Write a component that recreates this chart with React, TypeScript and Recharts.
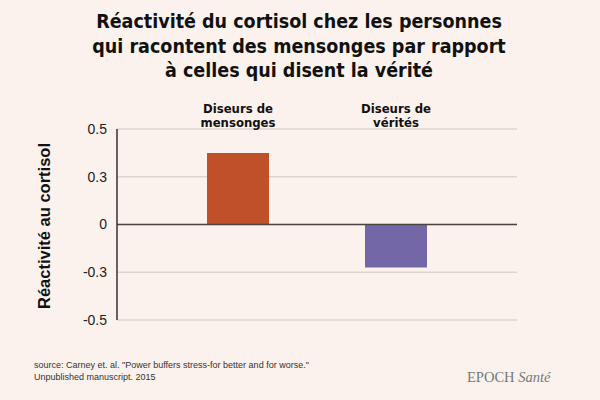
import React from "react";
import { Bar, BarChart, CartesianGrid, Cell, ReferenceLine, XAxis, YAxis } from "recharts";

// catégories et valeurs
const categories = ["Diseurs de mensonges", "Diseurs de vérités"];
const categoryLines = [
  ["Diseurs de", "mensonges"],
  ["Diseurs de", "vérités"],
];
const values = [0.45, -0.27];
const barColors = ["#c0502a", "#7467a7"];

// graduations régulièrement espacées comme sur l'original
const tickPositions = [0.6, 0.3, 0, -0.3, -0.6];
const tickLabels = ["0.5", "0.3", "0", "-0.3", "-0.5"];

const titleLines = [
  "Réactivité du cortisol chez les personnes",
  "qui racontent des mensonges par rapport",
  "à celles qui disent la vérité",
];
const sourceLines = [
  "source: Carney et. al. \"Power buffers stress-for better and for worse.\"",
  "Unpublished manuscript. 2015",
];

const BG = "#fcf2ed";
const TITLE_FONT = "'DejaVu Sans Condensed', 'Liberation Sans', sans-serif";

const data = categories.map((name, i) => ({ name, value: values[i] }));

const CategoryTick = (props: any) => {
  const { x, y, index } = props;
  const lines = categoryLines[index] || [];
  return (
    <g>
      {lines.map((line, i) => (
        <text
          key={line}
          x={x}
          y={y - 8 + i * 14}
          textAnchor="middle"
          fontFamily={TITLE_FONT}
          fontWeight="bold"
          fontSize={13}
          fill="#111"
        >
          {line}
        </text>
      ))}
    </g>
  );
};

export default function App() {
  return (
    <div
      style={{
        position: "absolute",
        left: 0,
        top: 0,
        width: 600,
        height: 400,
        background: BG,
        overflow: "hidden",
      }}
    >
      <div
        style={{
          position: "absolute",
          left: 0,
          top: 10,
          width: 598,
          textAlign: "center",
          fontFamily: TITLE_FONT,
          fontWeight: "bold",
          fontSize: 19.5,
          lineHeight: "24.5px",
          color: "#111",
        }}
      >
        {titleLines.map((l) => (
          <div key={l}>{l}</div>
        ))}
      </div>

      <BarChart
        width={600}
        height={400}
        data={data}
        margin={{ top: 99, right: 83, bottom: 80, left: 57 }}
        style={{ position: "absolute", left: 0, top: 0 }}
      >
        <CartesianGrid vertical={false} stroke="#dcd5cf" strokeWidth={1.5} />
        <XAxis
          dataKey="name"
          orientation="top"
          height={30}
          axisLine={false}
          tickLine={false}
          padding={{ left: 42, right: 42 }}
          tick={<CategoryTick />}
          interval={0}
        />
        <YAxis
          type="number"
          domain={[-0.6, 0.6]}
          ticks={tickPositions}
          tickFormatter={(v: number) => tickLabels[tickPositions.indexOf(v)] ?? String(v)}
          width={60}
          tickLine={false}
          axisLine={{ stroke: "#333", strokeWidth: 1.5 }}
          tickMargin={4}
          tick={{ fontFamily: "'Liberation Sans', Arial, sans-serif", fontSize: 14, fill: "#222" }}
        />
        <ReferenceLine y={0} stroke="#4a4541" strokeWidth={1.5} />
        <Bar dataKey="value" barSize={62} isAnimationActive={false}>
          {data.map((d, i) => (
            <Cell key={d.name} fill={barColors[i]} />
          ))}
        </Bar>
      </BarChart>

      <div
        style={{
          position: "absolute",
          left: 44,
          top: 226,
          transform: "translate(-50%, -50%) rotate(-90deg)",
          whiteSpace: "nowrap",
          fontFamily: "'Liberation Sans', Arial, sans-serif",
          fontWeight: "bold",
          fontSize: 16.5,
          color: "#111",
        }}
      >
        Réactivité au cortisol
      </div>

      <div
        style={{
          position: "absolute",
          left: 34,
          top: 359,
          fontFamily: "'Liberation Sans', Arial, sans-serif",
          fontSize: 9,
          lineHeight: "12px",
          color: "#333",
        }}
      >
        {sourceLines.map((l) => (
          <div key={l}>{l}</div>
        ))}
      </div>

      <div
        style={{
          position: "absolute",
          left: 467,
          top: 369,
          fontFamily: "'Liberation Serif', 'DejaVu Serif', serif",
          fontSize: 14.5,
          color: "#6e7b78",
          whiteSpace: "nowrap",
        }}
      >
        EPOCH <i>Santé</i>
      </div>
    </div>
  );
}
